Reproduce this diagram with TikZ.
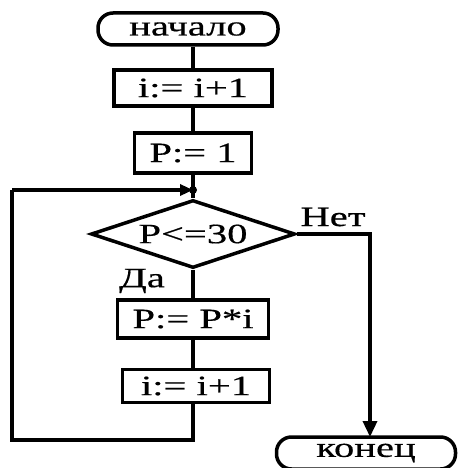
\documentclass[tikz,border=0pt]{standalone}
\usepackage{fontspec}
\setmainfont[FakeStretch=1.45,FakeBold=0.5]{Liberation Serif}
\usetikzlibrary{arrows.meta,shapes.geometric}
\begin{document}
\begin{tikzpicture}[x=1pt,y=-1pt,
  every node/.style={font=\fontsize{28}{30}\selectfont},
  line/.style={line width=3.5pt},
  term/.style={draw,line width=3.5pt,rounded corners=15pt,inner sep=0pt},
  proc/.style={draw,line width=3.5pt,inner sep=0pt},
  dec/.style={draw,line width=3.5pt,diamond,inner sep=0pt,minimum width=204pt,minimum height=68pt,aspect=3},
  lbl/.style={inner sep=0pt}]
\useasboundingbox (0,0) rectangle (459,468);
\node[term,minimum width=180pt,minimum height=32pt] (start) at (188,29) {начало};
\node[proc,minimum width=158pt,minimum height=36pt] (a1) at (193,88) {i:= i+1};
\node[proc,minimum width=117pt,minimum height=40pt] (p1) at (193,153) {P:= 1};
\node[dec] (d) at (193,234) {P<=30};
\node[proc,minimum width=151pt,minimum height=38pt] (pp) at (193,319) {P:= P*i};
\node[proc,minimum width=147pt,minimum height=33pt] (a2) at (196,386) {i:= i+1};
\node[term,minimum width=179pt,minimum height=32pt] (end) at (366,453) {конец};
\coordinate (j) at (193,190);
\coordinate (bot) at (193,440);
\coordinate (bl) at (12,440);
\coordinate (tl) at (12,190);
\coordinate (r) at (370,234);
\coordinate (rb) at (370,437);
\node[lbl] (net) at (333,217) {Нет};
\node[lbl] (da) at (142,281) {Да};
\draw[line] (start.south -| a1) -- (a1);
\draw[line] (a1) -- (p1);
\draw[line] (p1) -- (d);
\draw[line] (d) -- (pp);
\draw[line] (pp) -- (pp |- a2.north);
\draw[line] (a2.south -| bot) -- (bot) -- (bl) -- (tl);
\fill (j) circle (4pt);
\draw[line,-{Triangle[length=13pt,width=11pt]}] (tl) -- (j);
\draw[line,-{Triangle[length=16pt,width=14pt]}] (d.east) -- (r) -- (rb);
\end{tikzpicture}
\end{document}
